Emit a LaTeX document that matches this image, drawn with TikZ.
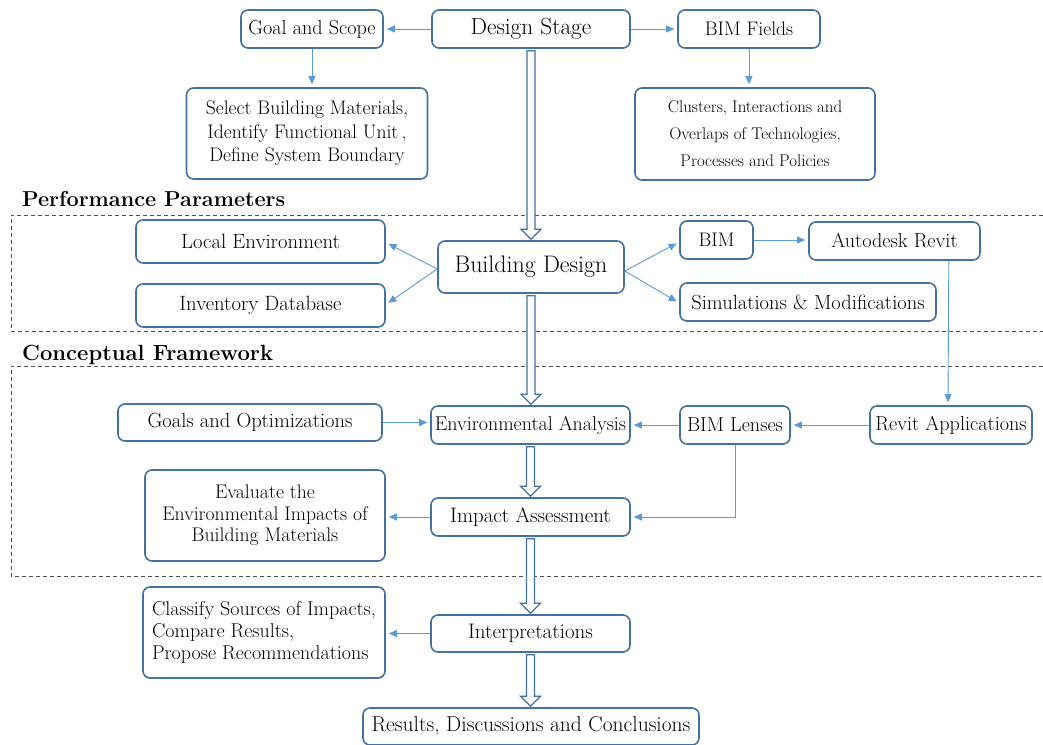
\documentclass[tikz,border=0pt]{standalone}
\usetikzlibrary{arrows.meta,calc}
\definecolor{boxblue}{RGB}{68,114,160}
\definecolor{arrowblue}{RGB}{91,155,213}
\definecolor{frame}{RGB}{80,80,80}
\newcommand\fsz[2]{\fontsize{#1}{#2}\selectfont}
\tikzset{
  box/.style={draw=boxblue, line width=1.6pt, rounded corners=7pt, fill=white,
    inner sep=0pt, align=center, text=black, font=\fsz{20.3}{24}},
  bigbox/.style={box, font=\fsz{23.3}{27}},
  thinarrow/.style={draw=arrowblue, line width=0.9pt,
    -{Triangle[length=8pt,width=7pt]}, shorten >=3pt},
  hollow/.style={draw=boxblue, line width=1.3pt, fill=white, line join=miter},
  zone/.style={draw=frame, line width=0.9pt, dash pattern=on 4pt off 3pt},
  heading/.style={anchor=base west, inner sep=0pt, font=\fsz{21.6}{25}\bfseries}
}
% hollow block arrow from the bottom of #1 to the top of #2
\newcommand\hollowarrow[2]{%
  \draw[hollow] let \p1=(#1.south), \p2=(#2.north) in
    (\x1-4pt,\y1-2pt) -- (\x1-4pt,\y2+11pt) -- (\x1-10pt,\y2+11pt) --
    (\x1,\y2+1pt) -- (\x1+10pt,\y2+11pt) -- (\x1+4pt,\y2+11pt) --
    (\x1+4pt,\y1-2pt) -- cycle;}
\begin{document}
\begin{tikzpicture}[x=1pt,y=-1pt]
\useasboundingbox (0,0) rectangle (1043,744);

% dashed zones
\draw[zone] (1043,215) -- (11,215) -- (11,331) -- (1043,331);
\draw[zone] (1043,366) -- (11,366) -- (11,576) -- (1043,576);
\node[heading] (hpp) at (22,206) {Performance Parameters};
\node[heading, font=\fsz{22}{25}\bfseries] (hcf) at (22,360) {Conceptual Framework};

% top row
\node[bigbox, minimum width=198pt, minimum height=38pt] (ds) at (531,29) {Design Stage};
\node[box, minimum width=142pt, minimum height=38pt, font=\fsz{20.2}{24}] (gs) at (312,29) {Goal and Scope};
\node[box, minimum width=142pt, minimum height=38pt, font=\fsz{19.6}{24}] (bf) at (749,29) {BIM Fields};
\node[box, minimum width=241pt, minimum height=91pt,
      font=\fsz{19.6}{23.5}] (sel) at (307,133.5)
  {Select Building Materials,\\Identify Functional Unit\,,\\Define System Boundary};
\node[box, minimum width=240pt, minimum height=92pt,
      font=\fsz{16.9}{27}] (clu) at (755,134)
  {Clusters, Interactions and\\Overlaps of Technologies,\\Processes and Policies};

% performance parameters
\node[box, minimum width=249pt, minimum height=43pt, font=\fsz{20.7}{24}] (le) at (260.5,241.5) {Local Environment};
\node[box, minimum width=249pt, minimum height=43pt, font=\fsz{20.7}{24}] (inv) at (260.5,305.5) {Inventory Database};
\node[bigbox, minimum width=186pt, minimum height=52pt, font=\fsz{23.9}{27}] (bd) at (531,267) {Building Design};
\node[box, minimum width=73pt, minimum height=38pt, font=\fsz{19.6}{24}] (bim) at (716.5,240) {BIM};
\node[box, minimum width=171pt, minimum height=38pt, font=\fsz{20.2}{24}] (ar) at (894.5,241) {Autodesk Revit};
\node[box, minimum width=256pt, minimum height=38pt, font=\fsz{20.5}{24}] (sim) at (808,302) {Simulations \& Modifications};

% conceptual framework
\node[box, minimum width=264pt, minimum height=37pt, font=\fsz{20.5}{24}] (go) at (250,422.5) {Goals and Optimizations};
\node[box, minimum width=199pt, minimum height=38pt, font=\fsz{20}{24}] (ea) at (530.5,425) {Environmental Analysis};
\node[box, minimum width=110pt, minimum height=38pt, font=\fsz{20.2}{24}] (bl) at (735,425) {BIM Lenses};
\node[box, minimum width=162pt, minimum height=38pt, font=\fsz{20.2}{24}] (ra) at (951,425) {Revit Applications};
\node[box, minimum width=240pt, minimum height=91pt,
      font=\fsz{19.7}{21.5}] (ev) at (265,515.5)
  {Evaluate the\\Environmental Impacts of\\Building Materials};
\node[box, minimum width=199pt, minimum height=38pt, font=\fsz{20.9}{24}] (ia) at (530.5,517) {Impact Assessment};

% interpretation
\node[box, minimum width=242pt, minimum height=91pt, align=left,
      font=\fsz{20}{22}] (cl) at (264,632.5)
  {Classify Sources of Impacts,\\Compare Results,\\Propose Recommendations};
\node[box, minimum width=199pt, minimum height=37pt, font=\fsz{21}{24}] (ip) at (530.5,633.5) {Interpretations};
\node[box, minimum width=336pt, minimum height=37pt, font=\fsz{21.5}{24}] (res) at (531,726.5)
  {Results, Discussions and Conclusions};

% thin connectors
\draw[thinarrow] (ds.west) -- (gs.east);
\draw[thinarrow] (ds.east) -- (bf.east -| bf.west);
\draw[thinarrow] (gs.south) -- (gs.south |- sel.north);
\draw[thinarrow] (bf.south) -- (bf.south |- clu.north);
\draw[thinarrow] ($(bd.west)+(0,2)$) -- ($(le.east)+(0,1)$);
\draw[thinarrow] ($(bd.west)+(0,2)$) -- ($(inv.east)+(0,-1)$);
\draw[thinarrow] ($(bd.east)+(0,4)$) -- ($(bim.west)+(0,2)$);
\draw[thinarrow] ($(bd.east)+(0,4)$) -- ($(sim.west)+(0,1)$);
\draw[thinarrow] (bim.east) -- (bim.east -| ar.west);
\draw[thinarrow] ($(ar.south east)+(-32,0)$) -- ($(ra.north)+(-3,0)$);
\draw[thinarrow] (ra.west) -- (bl.east);
\draw[thinarrow] (bl.west) -- (ea.east);
\draw[thinarrow] (go.east) -- (go.east -| ea.west);
\draw[thinarrow] (bl.south) |- (ia.east);
\draw[thinarrow] (ia.west) -- (ia.west -| ev.east);
\draw[thinarrow] (ip.west) -- (ip.west -| cl.east);

% main flow
\hollowarrow{ds}{bd}
\hollowarrow{bd}{ea}
\hollowarrow{ea}{ia}
\hollowarrow{ia}{ip}
\hollowarrow{ip}{res}
\end{tikzpicture}
\end{document}
